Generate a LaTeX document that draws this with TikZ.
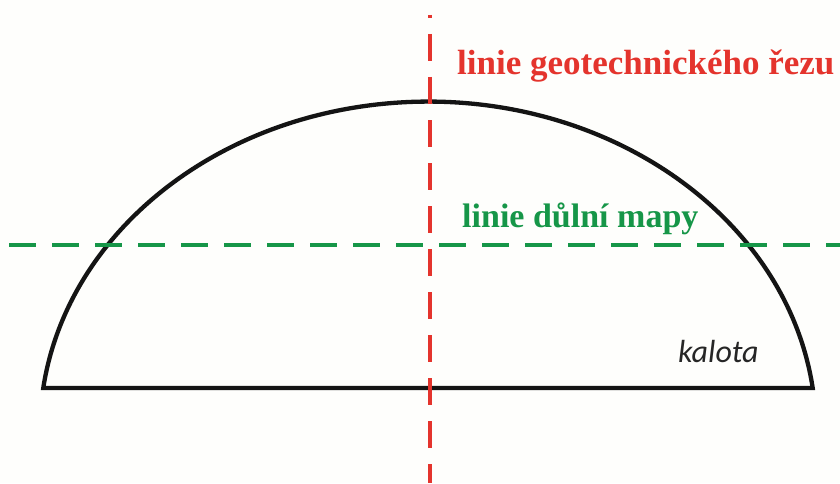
\documentclass[tikz,border=0pt]{standalone}
\usepackage{fontspec}
\setmainfont{Liberation Serif}
\newfontfamily\kalfont{Carlito}
\definecolor{redline}{RGB}{228,52,45}
\definecolor{greenline}{RGB}{22,150,72}
\definecolor{bgcol}{RGB}{254,254,252}
\tikzset{
  outline/.style={line width=4.3pt, black!92, line join=miter},
  reddash/.style={line width=4.5pt, redline, dash pattern=on 27pt off 16pt, dash phase=24pt},
  greendash/.style={line width=4.5pt, greenline, dash pattern=on 27pt off 16pt},
  redlabel/.style={anchor=base west, inner sep=0pt, text=redline, font=\fontsize{35}{40}\selectfont\bfseries},
  greenlabel/.style={anchor=base west, inner sep=0pt, text=greenline, font=\fontsize{34}{40}\selectfont\bfseries},
  kallabel/.style={anchor=base west, inner sep=0pt, text=black!85, font=\kalfont\fontsize{32}{36}\selectfont\itshape}
}
\begin{document}
\begin{tikzpicture}[x=1pt,y=1pt]
\fill[bgcol] (0,0) rectangle (840,483);
\useasboundingbox (0,0) rectangle (840,483);
% kalota outline
\coordinate (bl) at (43.3,95);
\coordinate (br) at (812.7,95);
\draw[outline] (bl) -- (br) arc[start angle=7.44, end angle=172.56, x radius=388, y radius=329] -- cycle;
% green horizontal line
\coordinate (gl) at (9,238);
\coordinate (gr) at (840,238);
\draw[greendash] (gl) -- (gr);
% red vertical line
\coordinate (rt) at (430,468);
\coordinate (rb) at (430,0);
\draw[reddash] (rt) -- (rb);
% labels
\node[redlabel] (rez) at (457,408) {linie geotechnického řezu};
\node[greenlabel] (mapa) at (462,256) {linie důlní mapy};
\node[kallabel] (kal) at (678,121) {kalota};
\end{tikzpicture}
\end{document}
